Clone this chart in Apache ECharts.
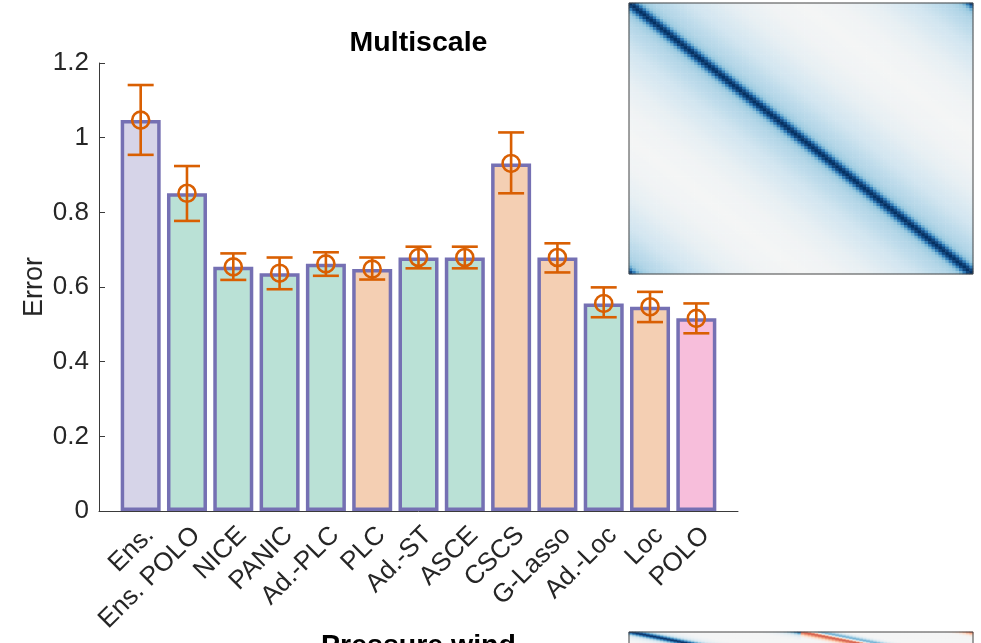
<!DOCTYPE html>
<html>
<head>
<meta charset="utf-8">
<title>Multiscale</title>
<script src="https://cdn.jsdelivr.net/npm/echarts@6/dist/echarts.min.js"></script>
<style>
  html, body { margin: 0; padding: 0; background: #ffffff; }
  #chart { width: 981px; height: 643px; }
</style>
</head>
<body>
<div id="chart"></div>
<script>
// ---- Error per method ----
const categories = ['Ens.', 'Ens. POLO', 'NICE', 'PANIC', 'Ad.-PLC', 'PLC', 'Ad.-ST',
                    'ASCE', 'CSCS', 'G-Lasso', 'Ad.-Loc', 'Loc', 'POLO'];
const errorMean = [1.047, 0.851, 0.654, 0.637, 0.662, 0.648, 0.679, 0.679, 0.931, 0.679, 0.556, 0.547, 0.516];
const errorLow  = [0.954, 0.777, 0.619, 0.594, 0.630, 0.620, 0.650, 0.650, 0.851, 0.639, 0.519, 0.506, 0.476];
const errorHigh = [1.141, 0.924, 0.690, 0.679, 0.693, 0.679, 0.708, 0.708, 1.014, 0.717, 0.599, 0.587, 0.556];
const methodGroup = ['ensemble', 'adaptive', 'adaptive', 'adaptive', 'adaptive', 'fixed', 'adaptive',
                     'adaptive', 'fixed', 'fixed', 'adaptive', 'fixed', 'polo'];

// ---- Covariance insets (values by distance from the diagonal) ----
// Multiscale covariance, 100 x 100 periodic grid, distance 0..50
const covProfile = [
  1.00, 0.92, 0.70, 0.48, 0.38, 0.34, 0.32, 0.30, 0.29, 0.28,
  0.27, 0.26, 0.25, 0.24, 0.23, 0.22, 0.21, 0.20, 0.19, 0.18,
  0.17, 0.16, 0.15, 0.14, 0.13, 0.12, 0.11, 0.10, 0.09, 0.08,
  0.07, 0.065, 0.06, 0.055, 0.05, 0.045, 0.04, 0.035, 0.03, 0.025,
  0.02, 0.02, 0.015, 0.015, 0.01, 0.01, 0.01, 0.005, 0.005, 0.0, 0.0
];
// Pressure / wind blocks, 50 x 50 periodic each, distance 0..25
const pressureProfile = [
  1.00, 0.92, 0.75, 0.56, 0.40, 0.28, 0.19, 0.13, 0.09, 0.06,
  0.04, 0.03, 0.02, 0.01, 0.0, 0.0, 0.0, 0.0, 0.0, 0.0,
  0.0, 0.0, 0.0, 0.0, 0.0, 0.0
];
const windProfile = pressureProfile;
// Pressure-wind cross covariance by signed offset -25..24
const crossProfile = [
  0, 0, 0, 0, 0, 0, 0, 0, 0, 0,
  0, 0, 0, 0, 0, 0, 0, -0.03, -0.06, -0.12,
  -0.20, -0.30, -0.40, -0.50, -0.58, -0.60, -0.50, -0.25, 0.10, 0.35,
  0.48, 0.45, 0.35, 0.24, 0.15, 0.08, 0.04, 0.02, 0, 0,
  0, 0, 0, 0, 0, 0, 0, 0, 0, 0
];

const FONT = "'Liberation Sans', Arial, Helvetica, sans-serif";
const AXIS_COLOR = '#3a3a3a';
const TEXT_COLOR = '#262626';
const groupFill = { ensemble: '#d6d4e8', adaptive: '#bae1d6', fixed: '#f4cfb3', polo: '#f7bedb' };
const edgeColor = '#7570b3';
const errColor = '#d95f02';
const rdbu = ['#67001f', '#b2182b', '#d6604d', '#f4a582', '#fddbc7', '#f4f5f5',
              '#d1e5f0', '#92c5de', '#4393c3', '#2166ac', '#053061'];

// build the covariance matrices as [col, row, value]
const N1 = 100;
const multiscaleCells = [];
for (let r = 0; r < N1; r++) {
  for (let c = 0; c < N1; c++) {
    const d = Math.abs(c - r);
    multiscaleCells.push([c, r, covProfile[Math.min(d, N1 - d)]]);
  }
}
const M = 50;
const N2 = 2 * M;
function wrapDist(o) { const d = Math.abs(o) % M; return Math.min(d, M - d); }
function wrapSigned(o) { return ((o + 25) % M + M) % M - 25; }
const pressureWindCells = [];
for (let r = 0; r < N2; r++) {
  for (let c = 0; c < N2; c++) {
    let v;
    if (r < M && c < M) v = pressureProfile[wrapDist(c - r)];
    else if (r < M) v = crossProfile[wrapSigned((c - M) - r) + 25];
    else if (c < M) v = crossProfile[wrapSigned((r - M) - c) + 25];
    else v = windProfile[wrapDist(c - r)];
    pressureWindCells.push([c, r, v]);
  }
}
const idx1 = Array.from({ length: N1 }, (_, i) => i);
const idx2 = Array.from({ length: N2 }, (_, i) => i);

const barData = errorMean.map((v, i) => ({
  value: [i + 1, v],
  itemStyle: { color: groupFill[methodGroup[i]] }
}));
const errData = errorMean.map((v, i) => [i + 1, v, errorLow[i], errorHigh[i]]);
const tickPositions = categories.map((_, i) => i + 1);

const chart = echarts.init(document.getElementById('chart'), null, { renderer: 'canvas' });

const hiddenCat = (data, gridIndex, inverse) => ({
  type: 'category', data, gridIndex, inverse: !!inverse,
  axisLine: { show: false }, axisTick: { show: false }, axisLabel: { show: false },
  splitLine: { show: false }
});

chart.setOption({
  animation: false,
  backgroundColor: '#ffffff',
  textStyle: { fontFamily: FONT },
  grid: [
    { left: 99, top: 63, width: 639, height: 448, containLabel: false },
    { left: 629, top: 3, width: 344, height: 271, show: true, z: 10,
      borderColor: '#444444', borderWidth: 1, backgroundColor: 'transparent' },
    { left: 629, top: 632, width: 344, height: 271, show: true, z: 10,
      borderColor: '#444444', borderWidth: 1, backgroundColor: 'transparent' }
  ],
  graphic: [
    { type: 'text', x: 418.5, y: 43, z: 10,
      style: { text: 'Multiscale', textAlign: 'center', textVerticalAlign: 'middle',
               fontFamily: FONT, fontSize: 28.5, fontWeight: 'bold', fill: '#000000' } },
    { type: 'text', x: 418.5, y: 646, z: 10,
      style: { text: 'Pressure wind', textAlign: 'center', textVerticalAlign: 'middle',
               fontFamily: FONT, fontSize: 28.5, fontWeight: 'bold', fill: '#000000' } }
  ],
  xAxis: [
    {
      type: 'value', gridIndex: 0, min: 0.1, max: 13.9,
      axisLine: { show: true, onZero: false, lineStyle: { color: AXIS_COLOR, width: 1 } },
      axisTick: { show: true, inside: true, length: 4, customValues: tickPositions,
                  lineStyle: { color: AXIS_COLOR, width: 1 } },
      axisLabel: {
        customValues: tickPositions, rotate: 45, margin: 11,
        align: 'right', verticalAlign: 'top',
        fontSize: 26, color: TEXT_COLOR, fontFamily: FONT,
        formatter: v => categories[Math.round(v) - 1] || ''
      },
      splitLine: { show: false }
    },
    hiddenCat(idx1, 1),
    hiddenCat(idx2, 2)
  ],
  yAxis: [
    {
      type: 'value', gridIndex: 0, min: 0, max: 1.2, interval: 0.2,
      axisLine: { show: true, onZero: false, lineStyle: { color: AXIS_COLOR, width: 1 } },
      axisTick: { show: true, inside: true, length: 6, lineStyle: { color: AXIS_COLOR, width: 1 } },
      axisLabel: { fontSize: 26, margin: 10, color: TEXT_COLOR, fontFamily: FONT,
                   formatter: v => String(+v.toFixed(1)) },
      splitLine: { show: false },
      name: 'Error', nameLocation: 'middle', nameGap: 51, nameMoveOverlap: false,
      nameTextStyle: { fontSize: 27, color: TEXT_COLOR, fontFamily: FONT }
    },
    hiddenCat(idx1, 1, true),
    hiddenCat(idx2, 2, true)
  ],
  visualMap: {
    type: 'continuous', show: false, min: -1, max: 1, dimension: 2,
    seriesIndex: [2, 3], inRange: { color: rdbu }
  },
  series: [
    {
      type: 'bar', xAxisIndex: 0, yAxisIndex: 0, barWidth: 40, z: 2,
      itemStyle: { borderColor: edgeColor, borderWidth: 3.5 },
      data: barData
    },
    {
      type: 'custom', xAxisIndex: 0, yAxisIndex: 0, z: 5,
      encode: { x: 0, y: [1, 2, 3] },
      data: errData,
      renderItem(params, api) {
        const x = api.value(0);
        const mid = api.coord([x, api.value(1)]);
        const lo = api.coord([x, api.value(2)]);
        const hi = api.coord([x, api.value(3)]);
        const cap = 13;
        const style = { stroke: errColor, lineWidth: 2.6, fill: 'none' };
        return {
          type: 'group',
          children: [
            { type: 'line', shape: { x1: mid[0], y1: lo[1], x2: mid[0], y2: hi[1] }, style },
            { type: 'line', shape: { x1: mid[0] - cap, y1: lo[1], x2: mid[0] + cap, y2: lo[1] }, style },
            { type: 'line', shape: { x1: mid[0] - cap, y1: hi[1], x2: mid[0] + cap, y2: hi[1] }, style },
            { type: 'circle', shape: { cx: mid[0], cy: mid[1], r: 8.5 }, style }
          ]
        };
      }
    },
    {
      type: 'heatmap', xAxisIndex: 1, yAxisIndex: 1, progressive: 0,
      itemStyle: { borderWidth: 0 },
      data: multiscaleCells
    },
    {
      type: 'heatmap', xAxisIndex: 2, yAxisIndex: 2, progressive: 0,
      itemStyle: { borderWidth: 0 },
      data: pressureWindCells
    }
  ]
});
</script>
</body>
</html>
